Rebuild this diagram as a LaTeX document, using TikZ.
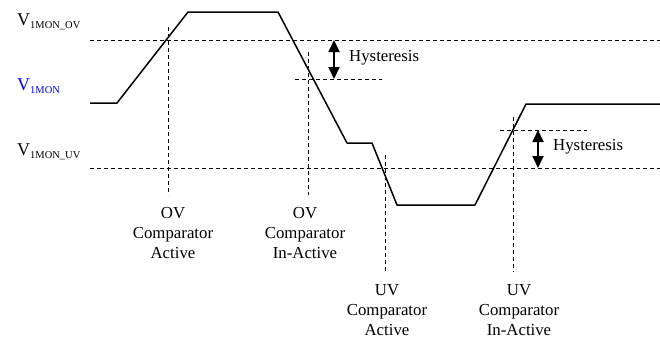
\documentclass[tikz,border=0pt]{standalone}
\usepackage{fontspec}
\setmainfont{Liberation Serif}
\usetikzlibrary{arrows.meta}
\definecolor{monblue}{RGB}{0,0,255}
\newcommand{\vmon}[1]{V{\fontsize{10.5}{12}\selectfont\raisebox{-3pt}{#1}}}
\begin{document}
\begin{tikzpicture}[x=1pt, y=-1pt, line join=round,
	wave/.style={line width=1.5pt},
	guide/.style={line width=0.9pt, dash pattern=on 4pt off 3pt},
	hyst/.style={line width=1.8pt, {Triangle[width=11pt,length=12pt]}-{Triangle[width=11pt,length=12pt]}},
	lbl/.style={align=center, inner sep=0pt, font=\fontsize{16.8}{20}\selectfont},
	vlbl/.style={anchor=base west, inner sep=0pt, font=\fontsize{18}{20}\selectfont}]
	
	\useasboundingbox (0,0) rectangle (660,338);
	
	% thresholds
	\draw[guide] (90,40) -- (660,40);
	\draw[guide] (90,168) -- (660,168);
	\draw[guide] (295,79) -- (382,79);
	\draw[guide] (500,130) -- (587,130);
	
	% switching points
	\foreach \x/\ya/\yb in {168/27/195, 308/52/195, 385/155/272, 513/117/272}
		\draw[guide] (\x,\ya) -- (\x,\yb);
	
	% monitored voltage
	\draw[wave] (90,103) -- (117,103) -- (188,12) -- (278,12) -- (347,143) -- (372,143)
		-- (397,205) -- (475,205) -- (526,104) -- (660,104);
	
	% hysteresis
	\coordinate (hyOVa) at (334,40);
	\coordinate (hyOVb) at (334,79);
	\coordinate (hyUVa) at (538,130);
	\coordinate (hyUVb) at (538,168);
	\draw[hyst] (hyOVa) -- (hyOVb);
	\draw[hyst] (hyUVa) -- (hyUVb);
	\node[lbl, anchor=west] (hysOV) at (349,58) {Hysteresis};
	\node[lbl, anchor=west] (hysUV) at (553,147) {Hysteresis};
	
	% levels
	\node[vlbl] (vov) at (17,25) {\vmon{1MON\_OV}};
	\node[vlbl, text=monblue] (vmon) at (17,90) {\vmon{1MON}};
	\node[vlbl] (vuv) at (17,155) {\vmon{1MON\_UV}};
	
	% comparator states
	\node[lbl] (ovact) at (173,233) {OV\\Comparator\\Active};
	\node[lbl] (ovinact) at (305,233) {OV\\Comparator\\In-Active};
	\node[lbl] (uvact) at (387,310) {UV\\Comparator\\Active};
	\node[lbl] (uvinact) at (519,310) {UV\\Comparator\\In-Active};
	
\end{tikzpicture}
\end{document}
